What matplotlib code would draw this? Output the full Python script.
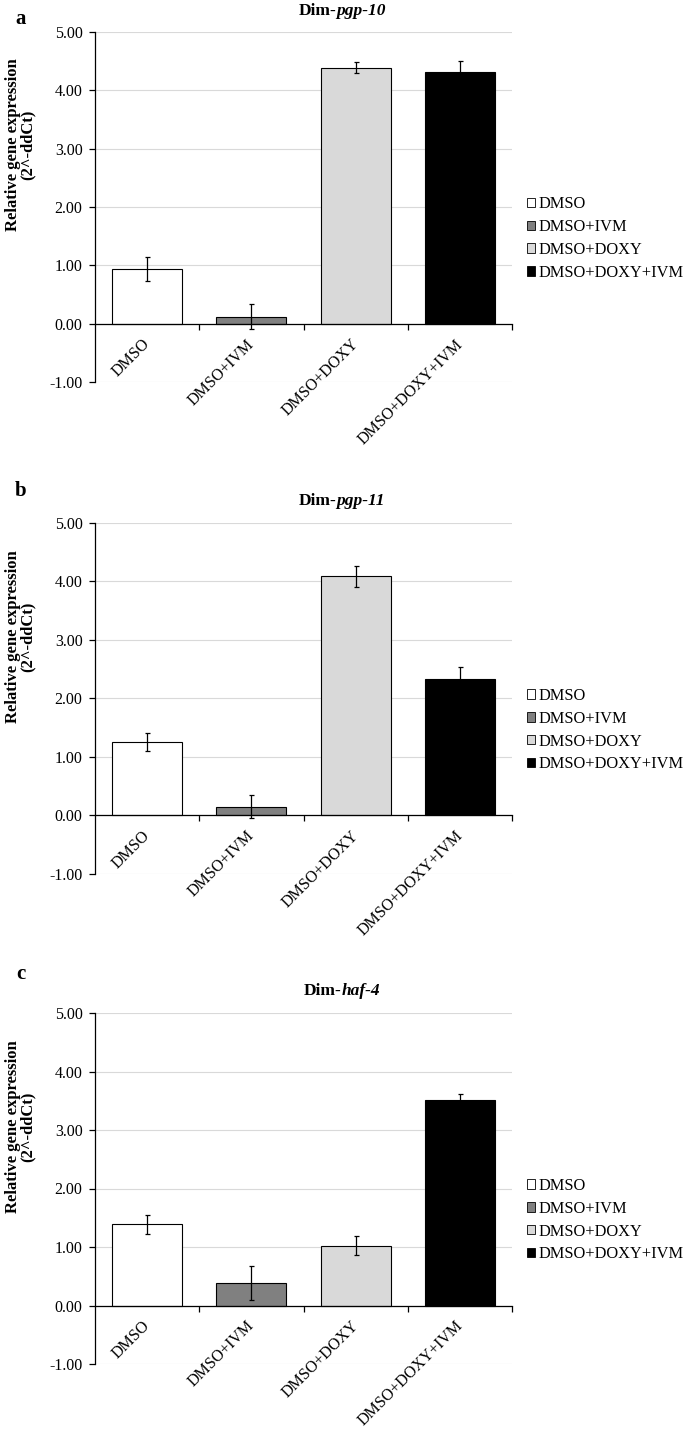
import matplotlib
matplotlib.use("Agg")
import matplotlib.pyplot as plt
import matplotlib.transforms as mtransforms
from matplotlib.patches import Patch

plt.rcParams['font.family'] = ['Liberation Serif', 'DejaVu Serif']
plt.rcParams['font.size'] = 11.5

groups = ['DMSO', 'DMSO+IVM', 'DMSO+DOXY', 'DMSO+DOXY+IVM']
colors = ['#ffffff', '#808080', '#d9d9d9', '#000000']

panel_letters = ['a', 'b', 'c']
gene_names = ['pgp-10', 'pgp-11', 'haf-4']

pgp10_mean = [0.94, 0.12, 4.39, 4.31]
pgp10_err = [0.21, 0.21, 0.09, 0.20]
pgp11_mean = [1.26, 0.15, 4.09, 2.33]
pgp11_err = [0.15, 0.20, 0.18, 0.20]
haf4_mean = [1.39, 0.38, 1.02, 3.51]
haf4_err = [0.16, 0.29, 0.16, 0.10]

means = [pgp10_mean, pgp11_mean, haf4_mean]
errs = [pgp10_err, pgp11_err, haf4_err]

yticks = [-1, 0, 1, 2, 3, 4, 5]

W, H = 685, 1429
fig = plt.figure(figsize=(W / 100, H / 100), dpi=100)

# axes boxes in pixels: left, top, right, bottom
boxes = [(95, 32, 512, 382), (95, 523, 512, 874), (95, 1013, 512, 1364)]
letter_y = [19, 491, 974]
title_y = [11, 501, 991]

renderer = fig.canvas.get_renderer()
label_shift = mtransforms.ScaledTranslation(6 / 100, 0, fig.dpi_scale_trans)

for i, (l, t, r, b) in enumerate(boxes):
    ax = fig.add_axes([l / W, 1 - b / H, (r - l) / W, (b - t) / H])
    x = list(range(len(groups)))
    ax.bar(x, means[i], width=0.67, color=colors, edgecolor='black',
           linewidth=0.8, zorder=3)
    ax.errorbar(x, means[i], yerr=errs[i], fmt='none', ecolor='black',
                elinewidth=0.9, capsize=1.8, capthick=0.9, zorder=4)

    ax.set_xlim(-0.5, 3.5)
    ax.set_ylim(-1, 5)
    ax.set_yticks(yticks)
    ax.set_yticklabels([f'{v:.2f}' for v in yticks])
    ax.yaxis.grid(True, color='#d9d9d9', linewidth=0.8, zorder=0)
    ax.set_axisbelow(True)

    ax.spines['top'].set_visible(False)
    ax.spines['right'].set_visible(False)
    ax.spines['left'].set_linewidth(0.9)
    ax.spines['bottom'].set_position(('data', 0))
    ax.spines['bottom'].set_linewidth(0.9)
    ax.spines['bottom'].set_zorder(5)

    ax.set_xticks(x)
    ax.set_xticklabels(groups, rotation=45, ha='right')
    ax.set_xticks([0.5, 1.5, 2.5, 3.5], minor=True)
    ax.tick_params(axis='x', which='major', length=0, pad=9, labelsize=11.5)
    ax.tick_params(axis='x', which='minor', length=4, width=0.9, direction='out')
    ax.tick_params(axis='y', length=4, width=0.9, direction='out', pad=5,
                   labelsize=11.5)
    for lab in ax.get_xticklabels():
        lab.set_transform(lab.get_transform() + label_shift)

    ax.set_ylabel('Relative gene expression\n(2^-ddCt)', fontweight='bold',
                  fontsize=12, linespacing=0.9)
    ax.yaxis.set_label_coords(-0.143, 0.677)

    handles = [Patch(facecolor=c, edgecolor='black', linewidth=0.6) for c in colors]
    ax.legend(handles, groups, loc='center left', bbox_to_anchor=(1.035, 0.41),
              frameon=False, borderaxespad=0, borderpad=0, handlelength=0.5,
              handleheight=0.5, handletextpad=0.2, labelspacing=0.42, fontsize=11.8)

    fig.text(21 / W, 1 - letter_y[i] / H, panel_letters[i], fontweight='bold',
             fontsize=15, ha='center', va='center')

    # title: bold "Dim-" followed by bold italic gene name, centred at x=342px
    t1 = fig.text(0, 1 - title_y[i] / H, 'Dim-', fontweight='bold',
                  fontsize=12.5, ha='left', va='center')
    t2 = fig.text(0, 1 - title_y[i] / H, gene_names[i], fontweight='bold',
                  fontstyle='italic', fontsize=12.5, ha='left', va='center')
    w1 = t1.get_window_extent(renderer).width
    w2 = t2.get_window_extent(renderer).width
    x0 = 342 - (w1 + w2) / 2
    t1.set_x(x0 / W)
    t2.set_x((x0 + w1) / W)

fig.savefig('out.png', dpi=100)
